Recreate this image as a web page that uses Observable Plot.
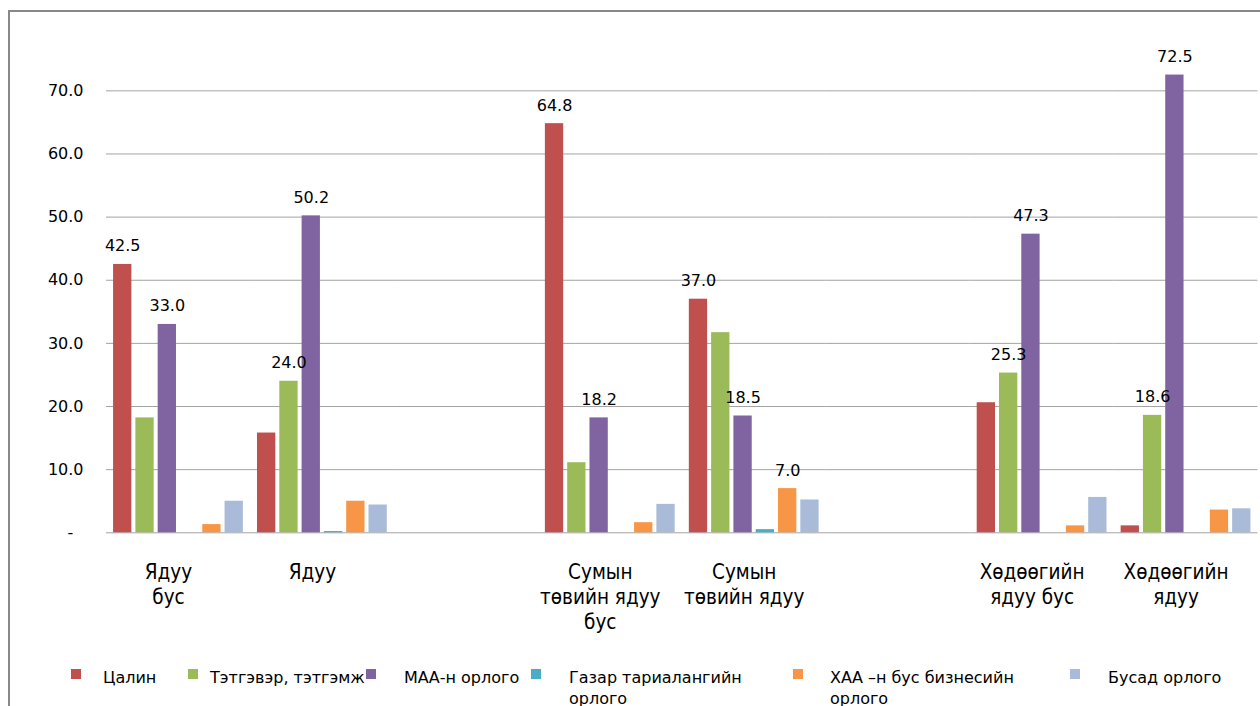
<!DOCTYPE html>
<html>
<head>
<meta charset="utf-8">
<script src="https://cdn.jsdelivr.net/npm/d3@7"></script>
<script src="https://cdn.jsdelivr.net/npm/@observablehq/plot@0.6"></script>
<style>
  html, body { margin: 0; padding: 0; background: #fff; width: 1260px; height: 706px; overflow: hidden; }
  #chart { position: absolute; left: 0; top: 0; }
  #frame { position: absolute; left: 8px; top: 10px; width: 1400px; height: 900px;
           border-left: 2px solid #888; border-top: 2px solid #888; z-index: 5; pointer-events: none; }
  #legend { position: absolute; left: 71px; top: 667px; display: grid;
            grid-template-columns: 117px 178px 165px 262px 277px auto;
            font-family: "DejaVu Sans", sans-serif; font-size: 16px; line-height: 21px; color: #000; }
  .item { display: flex; align-items: flex-start; }
  .sw { width: 10px; height: 10px; margin-top: 2px; flex: none; }
  .lab { margin-left: 28px; max-width: 205px; white-space: normal; }
  .item:nth-child(1) .lab { margin-left: 22px; }
  .item:nth-child(2) .lab { margin-left: 12px; white-space: nowrap; }
  .item:nth-child(5) .lab { margin-left: 27px; }
</style>
</head>
<body>
<div id="chart"></div>
<div id="frame"></div>
<div id="legend"></div>
<script>
// ---- data ----
const groups = ["Ядуу бус", "Ядуу", "Сумын төвийн ядуу бус", "Сумын төвийн ядуу", "Хөдөөгийн ядуу бус", "Хөдөөгийн ядуу"];
const groupLabels = ["Ядуу\nбус", "Ядуу", "Сумын\nтөвийн ядуу\nбус", "Сумын\nтөвийн ядуу", "Хөдөөгийн\nядуу бус", "Хөдөөгийн\nядуу"];
const slots = ["Ядуу бус", "Ядуу", " ", "Сумын төвийн ядуу бус", "Сумын төвийн ядуу", "  ", "Хөдөөгийн ядуу бус", "Хөдөөгийн ядуу"];
const series = ["Цалин", "Тэтгэвэр, тэтгэмж", "МАА-н орлого", "Газар тариалангийн орлого", "ХАА –н бус бизнесийн орлого", "Бусад орлого"];
const colors = ["#C0504D", "#9BBB59", "#8064A2", "#4BACC6", "#F79646", "#AABBD9"];
const salary    = [42.5, 15.8, 64.8, 37.0, 20.6, 1.1];
const pension   = [18.2, 24.0, 11.1, 31.7, 25.3, 18.6];
const livestock = [33.0, 50.2, 18.2, 18.5, 47.3, 72.5];
const crop      = [0.0, 0.2, 0.0, 0.5, 0.0, 0.0];
const nonfarm   = [1.3, 5.0, 1.6, 7.0, 1.1, 3.6];
const other     = [5.0, 4.4, 4.5, 5.2, 5.6, 3.8];
const valueLabels = [
  ["Цалин", "МАА-н орлого"],
  ["Тэтгэвэр, тэтгэмж", "МАА-н орлого"],
  ["Цалин", "МАА-н орлого"],
  ["Цалин", "МАА-н орлого", "ХАА –н бус бизнесийн орлого"],
  ["Тэтгэвэр, тэтгэмж", "МАА-н орлого"],
  ["Тэтгэвэр, тэтгэмж", "МАА-н орлого"]
];
const yTicks = [0, 10, 20, 30, 40, 50, 60, 70];

// ---- table ----
const valuesBySeries = [salary, pension, livestock, crop, nonfarm, other];
const rows = [];
groups.forEach((g, gi) => series.forEach((s, si) => {
  rows.push({group: g, series: s, value: valuesBySeries[si][gi], labelled: valueLabels[gi].includes(s)});
}));
const gridRows = [];
slots.forEach(sl => yTicks.forEach(t => gridRows.push({slot: sl, v: t})));
const catRows = groups.map((g, i) => ({group: g, label: groupLabels[i]}));

const chart = Plot.plot({
  width: 1260,
  height: 645,
  marginLeft: 106,
  marginRight: 2.5,
  marginTop: 27.2,
  marginBottom: 112.7,
  style: {fontFamily: "DejaVu Sans, sans-serif", fontSize: "16px", color: "#000", background: "transparent"},
  fx: {domain: slots, paddingInner: 0, paddingOuter: 0, round: false, axis: null, label: null},
  x: {domain: series, paddingInner: 0.179, paddingOuter: 0.317, round: false, axis: null, label: null},
  y: {domain: [0, 80], ticks: yTicks, tickSize: 0, tickPadding: 23, label: null,
      tickFormat: d => d === 0 ? "-\u00a0\u00a0" : d.toFixed(1)},
  color: {domain: series, range: colors},
  marks: [
    Plot.ruleY(gridRows, {fx: "slot", y: "v", stroke: "#a3a3a3", strokeWidth: 1}),
    Plot.barY(rows, {fx: "group", x: "series", y: "value", fill: "series", inset: 0}),
    Plot.text(rows.filter(d => d.labelled), {fx: "group", x: "series", y: "value",
      text: d => d.value.toFixed(1), lineAnchor: "bottom", dy: -13, fontSize: 16, fill: "#000"}),
    Plot.text(catRows, {fx: "group", text: "label", frameAnchor: "bottom", lineAnchor: "top",
      dy: 28, dx: -10, lineHeight: 1.22, fontSize: 20.5, fill: "#000",
      fontFamily: "DejaVu Sans Condensed, DejaVu Sans, sans-serif"})
  ]
});
document.getElementById("chart").appendChild(chart);

// ---- legend ----
const legend = document.getElementById("legend");
series.forEach((s, i) => {
  const item = document.createElement("div");
  item.className = "item";
  const sw = document.createElement("div");
  sw.className = "sw";
  sw.style.background = colors[i];
  const lab = document.createElement("div");
  lab.className = "lab";
  lab.textContent = s;
  item.appendChild(sw);
  item.appendChild(lab);
  legend.appendChild(item);
});
</script>
</body>
</html>
